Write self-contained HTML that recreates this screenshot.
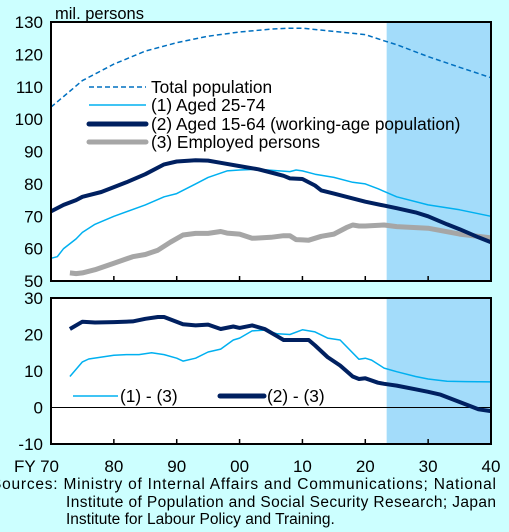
<!DOCTYPE html>
<html><head><meta charset="utf-8"><style>
body{margin:0;background:#CCFFFF;width:509px;height:532px;overflow:hidden;font-family:"Liberation Sans",sans-serif}
svg{position:absolute;left:0;top:0}
</style></head><body>
<svg id="c" width="509" height="532" font-family="Liberation Sans, sans-serif"></svg>
<script>
const yearsTotal=[1970,1972,1975,1980,1985,1990,1995,2000,2005,2008,2010,2015,2020,2023,2025,2030,2035,2040];
const valsTotal=[103.7,107,111.9,117,121,123.6,125.6,126.9,127.8,128.1,128.1,127.1,126.1,124.2,123,119.3,116,112.8];
const years1=[1970,1971,1972,1974,1975,1977,1980,1985,1988,1990,1993,1995,1998,2000,2003,2005,2008,2009,2010,2012,2015,2018,2020,2022,2025,2030,2035,2040];
const vals1=[57,57.5,60,63,65,67.5,70,73.5,76,77,80,82,84,84.3,84.5,84.2,83.8,84.3,84,83,82,80.5,80,78.5,76,73.5,72,70];
const years2=[1970,1972,1974,1975,1978,1980,1982,1985,1988,1990,1993,1995,1997,2000,2003,2005,2007,2008,2010,2012,2013,2015,2018,2020,2023,2025,2028,2030,2033,2035,2038,2040];
const vals2=[71.5,73.5,75,76,77.5,79,80.5,83,86,86.9,87.3,87.2,86.5,85.5,84.5,83.5,82.5,81.7,81.5,79.5,78,77,75.5,74.5,73.3,72.5,71.2,70,67.5,66,63.5,62];
const years3=[1973,1974,1975,1977,1980,1983,1985,1987,1989,1991,1993,1995,1997,1998,2000,2002,2005,2007,2008,2009,2010,2011,2013,2015,2017,2018,2019,2020,2023,2025,2030,2035,2040];
const vals3=[52.5,52.3,52.5,53.5,55.5,57.5,58.2,59.5,62,64.2,64.7,64.7,65.3,64.8,64.5,63.2,63.5,64,64,62.8,62.7,62.6,63.8,64.5,66.5,67.3,67,67,67.3,66.8,66.3,64.5,63.3];
const yearsD1=[1973,1975,1976,1978,1980,1982,1984,1986,1988,1990,1991,1993,1995,1997,1999,2000,2002,2004,2006,2008,2010,2012,2014,2016,2019,2020,2021,2023,2025,2028,2030,2033,2036,2040];
const valsD1=[8.5,12.5,13.3,13.8,14.3,14.5,14.5,15,14.5,13.5,12.7,13.5,15.2,16,18.5,19,21,21.2,20.2,20,21.3,20.7,19,18.5,13.2,13.5,13,10.8,9.8,8.5,7.8,7.2,7.1,7];
const yearsD2=[1973,1975,1977,1980,1983,1985,1987,1988,1991,1993,1995,1997,1999,2000,2002,2004,2006,2007,2009,2011,2012,2014,2016,2018,2019,2020,2022,2023,2025,2028,2030,2032,2035,2038,2040];
const valsD2=[21.5,23.5,23.3,23.4,23.6,24.3,24.8,24.8,22.8,22.5,22.7,21.5,22.2,21.8,22.5,21.5,19.5,18.5,18.5,18.5,17,13.8,11.5,8.5,7.8,8,6.8,6.5,6,5,4.3,3.5,1.5,-0.5,-1];
const topTicks=[50,60,70,80,90,100,110,120,130];
const botTicks=[-10,0,10,20,30];
const xTicks=["FY 70","80","90","00","10","20","30","40"];
const xTickYears=[1970,1980,1990,2000,2010,2020,2030,2040];
const shadeStart=2023.4;

const L=51,R=491,T1=22,B1=281,T2=298,B2=444;
const x=y=>L+(y-1970)/70*(R-L);
const yTop=v=>B1-(v-50)/80*(B1-T1);
const yBot=v=>B2-(v+10)/40*(B2-T2);
const svg=document.getElementById('c');
const NS='http://www.w3.org/2000/svg';
function mk(tag,attrs,name,parent){const e=document.createElementNS(NS,tag);for(const k in attrs)e.setAttribute(k,attrs[k]);


(parent||svg).appendChild(e);return e;}
function txt(s,X,Y,anchor,size,name){const t=mk('text',{x:X,y:Y,'text-anchor':anchor,'font-size':size,fill:'#000'},name);t.textContent=s;return t;}
mk('rect',{x:L,y:T1,width:R-L,height:B1-T1,fill:'#fff'},'top-plot-area');
mk('rect',{x:x(shadeStart),y:T1,width:R-x(shadeStart),height:B1-T1,fill:'#A3DCFA'},'top-forecast-shade');
mk('rect',{x:L,y:T2,width:R-L,height:B2-T2,fill:'#fff'},'bottom-plot-area');
mk('rect',{x:x(shadeStart),y:T2,width:R-x(shadeStart),height:B2-T2,fill:'#A3DCFA'},'bottom-forecast-shade');
mk('line',{x1:L,x2:R,y1:yBot(0),y2:yBot(0),stroke:'#000','stroke-width':1},'zero-line');
function path(xs,vs,yf,st,name){let d='';xs.forEach((yr,i)=>{d+=(i?'L':'M')+x(yr).toFixed(1)+','+yf(vs[i]).toFixed(1);});
return mk('path',Object.assign({d:d,fill:'none','stroke-linejoin':'round'},st),name);}
path(years3,vals3,yTop,{stroke:'#A6A6A6','stroke-width':5},'employed-persons-line');
path(years1,vals1,yTop,{stroke:'#00B0F0','stroke-width':1.5},'aged-25-74-line');
path(years2,vals2,yTop,{stroke:'#002060','stroke-width':4},'aged-15-64-line');
path(yearsTotal,valsTotal,yTop,{stroke:'#0070C0','stroke-width':1.5,'stroke-dasharray':'5,3'},'total-population-line');
path(yearsD1,valsD1,yBot,{stroke:'#00B0F0','stroke-width':1.5},'diff-1-3-line');
path(yearsD2,valsD2,yBot,{stroke:'#002060','stroke-width':4},'diff-2-3-line');
mk('rect',{x:L,y:T1,width:R-L,height:B1-T1,fill:'none',stroke:'#000','stroke-width':2},'top-frame');
mk('rect',{x:L,y:T2,width:R-L,height:B2-T2,fill:'none',stroke:'#000','stroke-width':2},'bottom-frame');
xTickYears.forEach((yr,i)=>{
 mk('line',{x1:x(yr),x2:x(yr),y1:B1,y2:B1-5,stroke:'#000','stroke-width':1.5},'top-x-tick');
 mk('line',{x1:x(yr),x2:x(yr),y1:B2,y2:B2-5,stroke:'#000','stroke-width':1.5},'bottom-x-tick');
 txt(xTicks[i],i==0?x(yr)+8:x(yr),472,i==0?'end':'middle',17,'x-tick-label');
});
topTicks.forEach(v=>txt(String(v),43,yTop(v)+6,'end',17,'top-y-tick-label'));
botTicks.forEach(v=>txt(String(v),43,yBot(v)+6,'end',17,'bottom-y-tick-label'));
txt('mil. persons',55,19,'start',16.5,'y-axis-unit');
const lg=[['Total population',{stroke:'#0070C0','stroke-width':1.5,'stroke-dasharray':'5,3'},87],['(1) Aged 25-74',{stroke:'#00B0F0','stroke-width':1.5},105],['(2) Aged 15-64 (working-age population)',{stroke:'#002060','stroke-width':5,'stroke-linecap':'round'},124],['(3) Employed persons',{stroke:'#A6A6A6','stroke-width':5,'stroke-linecap':'round'},142]];
lg.forEach(l=>{mk('line',Object.assign({x1:89,x2:146,y1:l[2],y2:l[2]},l[1]),'legend-swatch');txt(l[0],151,l[2]+6,'start',17.3,'legend-entry');});
mk('line',{x1:73,x2:118,y1:396,y2:396,stroke:'#00B0F0','stroke-width':1.5},'legend-swatch');
txt('(1) - (3)',120,402,'start',17.3,'legend-entry');
mk('line',{x1:220,x2:264,y1:396,y2:396,stroke:'#002060','stroke-width':5,'stroke-linecap':'round'},'legend-swatch');
txt('(2) - (3)',267,402,'start',17.3,'legend-entry');
const s1=txt('Sources:  Ministry  of  Internal  Affairs  and  Communications;  National',-9,489,'start',15.5,'sources-note');
s1.setAttribute('textLength','505');
const s2=txt('Institute of Population and Social Security Research; Japan',66,507,'start',15.5,'sources-note');
s2.setAttribute('textLength','430');
txt('Institute for Labour Policy and Training.',66,524,'start',15.5,'sources-note');
</script>
</body></html>
